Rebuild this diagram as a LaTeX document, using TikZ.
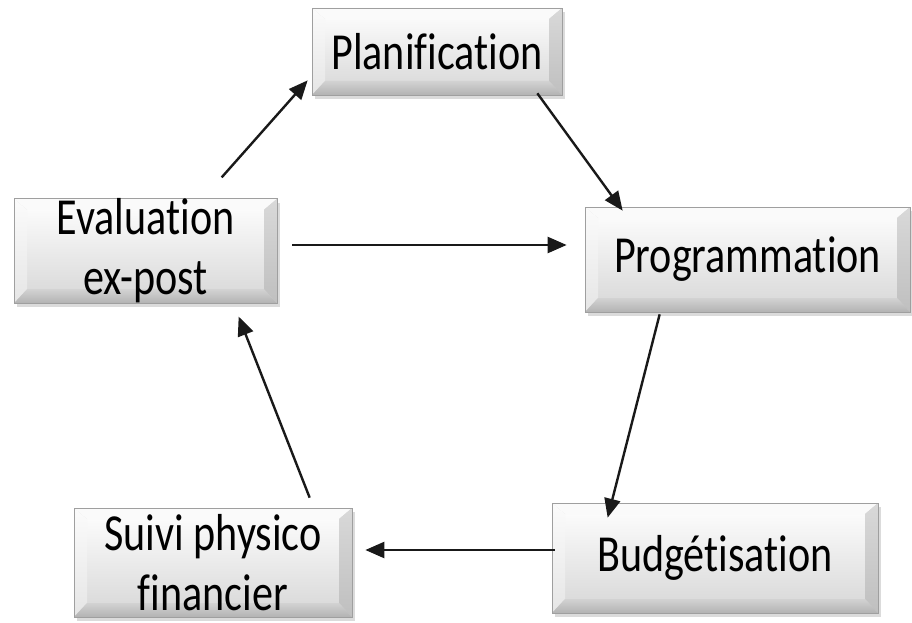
\documentclass[tikz,border=0pt]{standalone}
\usepackage{fontspec}
\newfontfamily\boxfont[FakeStretch=0.81, Ligatures={NoCommon}]{Carlito}
\usetikzlibrary{arrows.meta,shadows,calc}
\begin{document}
\begin{tikzpicture}[x=1pt,y=-1pt,
  bx/.style={rectangle, inner sep=0pt, align=center,
    font=\boxfont\fontsize{52}{60}\selectfont,
    draw=gray!75, line width=0.7pt, fill=gray!30,
    drop shadow={shadow xshift=3pt, shadow yshift=-4pt, fill=gray!70, opacity=0.4},
    path picture={
      \shade[top color=white, bottom color=gray!32]
        ([xshift=13pt,yshift=-11pt]path picture bounding box.north west)
        rectangle ([xshift=-13pt,yshift=14pt]path picture bounding box.south east);
      \fill[gray!4]
        (path picture bounding box.north west) -- (path picture bounding box.north east)
        -- ([xshift=-13pt,yshift=-11pt]path picture bounding box.north east)
        -- ([xshift=13pt,yshift=-11pt]path picture bounding box.north west) -- cycle;
      \shade[top color=gray!3, bottom color=gray!20]
        (path picture bounding box.north west)
        -- ([xshift=13pt,yshift=-11pt]path picture bounding box.north west)
        -- ([xshift=13pt,yshift=14pt]path picture bounding box.south west)
        -- (path picture bounding box.south west) -- cycle;
      \shade[top color=gray!30, bottom color=gray!50]
        (path picture bounding box.north east)
        -- ([xshift=-13pt,yshift=-11pt]path picture bounding box.north east)
        -- ([xshift=-13pt,yshift=14pt]path picture bounding box.south east)
        -- (path picture bounding box.south east) -- cycle;
      \shade[top color=gray!35, bottom color=gray!60]
        (path picture bounding box.south west)
        -- ([xshift=13pt,yshift=14pt]path picture bounding box.south west)
        -- ([xshift=-13pt,yshift=14pt]path picture bounding box.south east)
        -- (path picture bounding box.south east) -- cycle;
    }},
  arr/.style={-{Triangle[length=19pt,width=16pt]}, line width=2.4pt, black!90}]

\useasboundingbox (0,0) rectangle (912,623);

\node[bx, minimum width=250pt, minimum height=87pt]  (plan)  at (437,51.5)   {Planification};
\node[bx, minimum width=263pt, minimum height=100pt] (eval)  at (145.5,251)  {Evaluation\\ex-post};
\node[bx, minimum width=325pt, minimum height=105pt] (prog)  at (747.5,259.5){Programmation};
\node[bx, minimum width=326pt, minimum height=110pt] (budg)  at (715,558)    {Budgétisation};
\node[bx, minimum width=278pt, minimum height=109pt] (suivi) at (213,562.5)  {Suivi physico\\financier};

\draw[arr] ($(eval.north west)+(208,-21)$) -- ($(plan.south west)+(-4,-15)$);
\draw[arr] ($(plan.south east)+(-25,-2)$) -- ($(prog.north west)+(38,4)$);
\draw[arr] ($(eval.east)+(15,-6)$) -- ($(prog.west)+(-18,-14.5)$);
\draw[arr] ($(prog.south west)+(75,2)$) -- ($(budg.north west)+(56,15)$);
\draw[arr] ($(budg.west)+(3,-8)$) -- ($(suivi.east)+(13,-12.5)$);
\draw[arr] ($(suivi.north west)+(236,-10)$) -- ($(eval.south west)+(225,13)$);
\end{tikzpicture}
\end{document}
